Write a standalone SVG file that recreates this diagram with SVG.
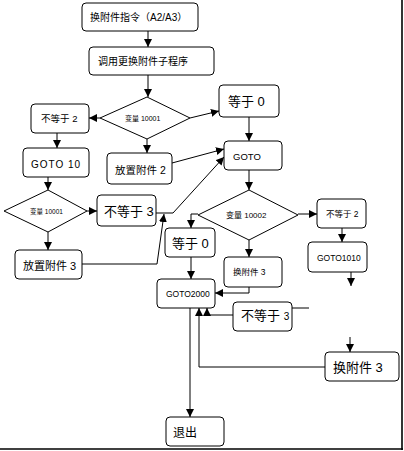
<svg xmlns="http://www.w3.org/2000/svg" width="404" height="451" viewBox="0 0 404 451">
<style>
.box{fill:#fff;stroke:#000;stroke-width:1}
.dia{fill:#fff;stroke:#000;stroke-width:1}
.t{font-family:"Liberation Sans","Noto Sans CJK SC",sans-serif;fill:#000}
.c{fill:none;stroke:#000;stroke-width:1}
.a{marker-end:url(#ah)}
</style>
<defs>
<marker id="ah" markerUnits="userSpaceOnUse" markerWidth="8" markerHeight="8" viewBox="0 0 8 8" refX="8" refY="4" orient="auto">
<path d="M0,0 L8,4 L0,8 Z" fill="#000"/>
</marker>
</defs>
<rect width="404" height="451" fill="#fff"/>
<g id="frame" class="c" style="stroke-width:1.6">
<line x1="402" y1="0" x2="402" y2="450"/>
<line x1="0" y1="449" x2="403" y2="449"/>
</g>
<g id="connectors">
<path class="c a" d="M148,31 V47"/>
<path class="c a" d="M148,75 V97"/>
<path class="c a" d="M100,118 H89"/>
<path class="c a" d="M190,118 L219,111"/>
<path class="c a" d="M147,139 V153"/>
<path class="c a" d="M57,133 V148"/>
<path class="c a" d="M249,117 V141"/>
<path class="c a" d="M172,163 L224,149"/>
<path class="c a" d="M156,213 H173 L224,157"/>
<path class="c a" d="M82,264 H157 L164,214"/>
<path class="c a" d="M48,177 V190"/>
<path class="c a" d="M87,211 H97"/>
<path class="c a" d="M48,232 V250"/>
<path class="c a" d="M249,170 V190"/>
<path class="c a" d="M298,214 H317"/>
<path class="c a" d="M342,228 V242"/>
<path class="c a" d="M351,272 V286"/>
<path class="c a" d="M198,214 H191 V228"/>
<path class="c a" d="M249,240 V257"/>
<path class="c a" d="M191,257 V279"/>
<path class="c a" d="M249,287 V293 H215"/>
<path class="c" d="M292,308 H309"/>
<path class="c a" d="M233,315 H207 V308"/>
<path class="c a" d="M325,367 H199 V308"/>
<path class="c a" d="M190,308 V417"/>
<path class="c a" d="M350,337 V352"/>
</g>
<g id="n1"><rect class="box" x="82" y="3" width="116" height="28" rx="4"/><text class="t" x="90" y="21" font-size="10">换附件指令（A2/A3）</text></g>
<g id="n2"><rect class="box" x="89" y="47" width="125" height="28" rx="4"/><text class="t" x="98" y="65" font-size="10">调用更换附件子程序</text></g>
<g id="d1"><polygon class="dia" points="147,97 190,118 147,139 100,118"/><text class="t" x="125" y="121" font-size="7">变量 10001</text></g>
<g id="n3"><rect class="box" x="31" y="104" width="58" height="29" rx="4"/><text class="t" x="41" y="122" font-size="9.5">不等于 2</text></g>
<g id="n4"><rect class="box" x="219" y="85" width="60" height="32" rx="4"/><text class="t" x="228" y="105.5" font-size="13">等于 0</text></g>
<g id="n5"><rect class="box" x="224" y="141" width="58" height="29" rx="4"/><text class="t" x="233" y="159.5" font-size="9.5">GOTO</text></g>
<g id="n6"><rect class="box" x="107" y="153" width="65" height="31" rx="4"/><text class="t" x="115" y="174" font-size="10.5">放置附件 2</text></g>
<g id="n7"><rect class="box" x="23" y="148" width="66" height="29" rx="4"/><text class="t" x="31" y="167.5" font-size="10" letter-spacing="1">GOTO 10</text></g>
<g id="d2"><polygon class="dia" points="48,190 87,211 48,232 4,211"/><text class="t" x="30" y="213.5" font-size="6.5">变量 10001</text></g>
<g id="n8"><rect class="box" x="97" y="195" width="59" height="31" rx="4"/><text class="t" x="104" y="216" font-size="13">不等于 3</text></g>
<g id="n9"><rect class="box" x="15" y="250" width="67" height="29" rx="4"/><text class="t" x="23" y="270" font-size="11">放置附件 3</text></g>
<g id="d3"><polygon class="dia" points="249,190 298,215 249,240 198,215"/><text class="t" x="226" y="218" font-size="8">变量 10002</text></g>
<g id="n10"><rect class="box" x="317" y="199" width="49" height="29" rx="4"/><text class="t" x="326" y="217" font-size="8.5">不等于 2</text></g>
<g id="n11"><rect class="box" x="308" y="242" width="59" height="30" rx="4"/><text class="t" x="317" y="261" font-size="8.5">GOTO1010</text></g>
<g id="n12"><rect class="box" x="165" y="228" width="50" height="29" rx="4"/><text class="t" x="172" y="247.5" font-size="13">等于 0</text></g>
<g id="n13"><rect class="box" x="224" y="257" width="58" height="30" rx="4"/><text class="t" x="233" y="275" font-size="8.5">换附件 3</text></g>
<g id="n14"><rect class="box" x="157" y="279" width="58" height="29" rx="4"/><text class="t" x="166" y="297" font-size="8.5">GOTO2000</text></g>
<g id="n15"><rect class="box" x="233" y="302" width="59" height="29" rx="4"/><text class="t" x="241" y="320" font-size="13">不等于 <tspan font-size="10">3</tspan></text></g>
<g id="n16"><rect class="box" x="325" y="352" width="74" height="29" rx="4"/><text class="t" x="333" y="372" font-size="13">换附件 3</text></g>
<g id="n17"><rect class="box" x="166" y="417" width="58" height="29" rx="4"/><text class="t" x="173" y="436.5" font-size="12">退出</text></g>
</svg>
